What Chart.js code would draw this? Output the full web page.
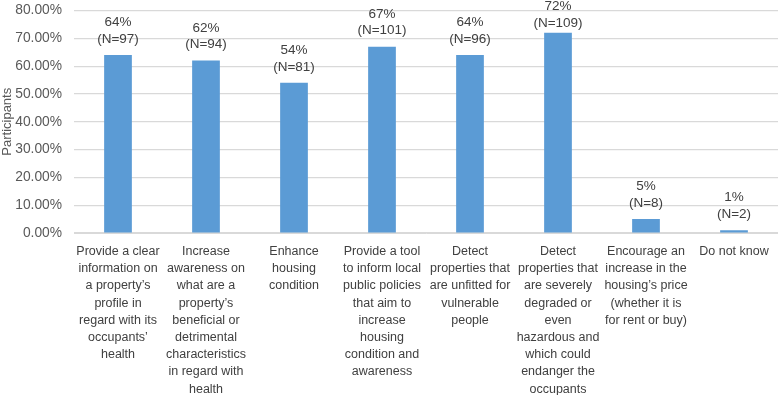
<!DOCTYPE html>
<html>
<head>
<meta charset="utf-8">
<script src="https://cdn.jsdelivr.net/npm/chart.js@4/dist/chart.umd.min.js"></script>
<style>
  html, body { margin: 0; padding: 0; background: #fff; }
  #wrap { width: 778px; height: 395px; position: relative; }
</style>
</head>
<body>
<div id="wrap"><canvas id="chart"></canvas></div>
<script>
// categories (pre-wrapped as in the original)
const categories = [
  ["Provide a clear", "information on", "a property’s", "profile in", "regard with its", "occupants’", "health"],
  ["Increase", "awareness on", "what are a", "property’s", "beneficial or", "detrimental", "characteristics", "in regard with", "health"],
  ["Enhance", "housing", "condition"],
  ["Provide a tool", "to inform local", "public policies", "that aim to", "increase", "housing", "condition and", "awareness"],
  ["Detect", "properties that", "are unfitted for", "vulnerable", "people"],
  ["Detect", "properties that", "are severely", "degraded or", "even", "hazardous and", "which could", "endanger the", "occupants"],
  ["Encourage an", "increase in the", "housing’s price", "(whether it is", "for rent or buy)"],
  ["Do not know"]
];
const percentValues = [64, 62, 54, 67, 64, 72, 5, 1];
const participantCounts = [97, 94, 81, 101, 96, 109, 8, 2];
const yTicks = [0, 10, 20, 30, 40, 50, 60, 70, 80];

const FONT = "'Liberation Sans', Arial, sans-serif";

// two-line value labels above each bar (kept inside the canvas at the top)
const barLabels = {
  id: 'barLabels',
  afterDatasetsDraw(chart) {
    const ctx = chart.ctx;
    const meta = chart.getDatasetMeta(0);
    ctx.save();
    ctx.fillStyle = '#404040';
    ctx.font = '13.5px ' + FONT;
    ctx.textAlign = 'center';
    ctx.textBaseline = 'middle';
    meta.data.forEach((bar, i) => {
      const y1 = Math.max(bar.y - 32.5, 6.5);
      ctx.fillText(percentValues[i] + '%', bar.x, y1);
      ctx.fillText('(N=' + participantCounts[i] + ')', bar.x, y1 + 16.5);
    });
    ctx.restore();
  }
};

new Chart(document.getElementById('chart'), {
  type: 'bar',
  data: {
    labels: categories,
    datasets: [{
      label: 'Participants',
      data: percentValues,
      backgroundColor: '#5b9bd5',
      categoryPercentage: 1.0,
      barPercentage: 0.315
    }]
  },
  options: {
    responsive: true,
    maintainAspectRatio: false,
    animation: false,
    layout: { padding: 0 },
    plugins: {
      legend: { display: false },
      tooltip: { enabled: false }
    },
    scales: {
      x: {
        grid: { display: false },
        border: { color: '#d9d9d9' },
        afterFit: s => { s.height = 162; s.paddingLeft = 0; s.paddingRight = 0; },
        ticks: {
          color: '#404040',
          font: { family: FONT, size: 12.5, lineHeight: 1.376 },
          maxRotation: 0,
          minRotation: 0,
          autoSkip: false,
          padding: 2
        }
      },
      y: {
        min: 0,
        max: 80,
        afterBuildTicks: axis => { axis.ticks = yTicks.map(v => ({ value: v })); },
        afterFit: s => { s.width = 74; s.paddingTop = 10.5; s.paddingBottom = 0; },
        grid: { color: '#d9d9d9', lineWidth: 1.2, drawTicks: false },
        border: { display: false },
        ticks: {
          color: '#595959',
          font: { family: FONT, size: 13.8, lineHeight: 1.0 },
          padding: 12,
          callback: v => v.toFixed(2) + '%'
        },
        title: {
          display: true,
          text: 'Participants',
          color: '#595959',
          font: { family: FONT, size: 13 },
          padding: { top: 0, bottom: 0 }
        }
      }
    }
  },
  plugins: [barLabels]
});
</script>
</body>
</html>
